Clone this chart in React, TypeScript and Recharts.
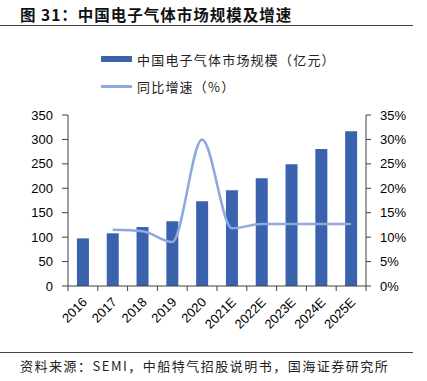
import { ComposedChart, Bar, Line, XAxis, YAxis } from "recharts";

const years = ["2016", "2017", "2018", "2019", "2020", "2021E", "2022E", "2023E", "2024E", "2025E"];
const marketSize = [97.5, 107.8, 120.7, 132.3, 173.3, 195.8, 220.3, 249, 280.4, 316.5];
const growth = [null, 11.5, 11.2, 9.0, 30.0, 11.8, 12.7, 12.7, 12.7, 12.7];
const leftTicks = [0, 50, 100, 150, 200, 250, 300, 350];
const rightTicks = [0, 5, 10, 15, 20, 25, 30, 35];

const data = years.map((year, i) => ({ year, size: marketSize[i], growth: growth[i] }));

const BAR = "#3A62AD";
const LINE = "#8EA9DB";
const AXIS = "#404040";
const CJK = '"Noto Sans CJK SC", sans-serif';
const NUM = '"Liberation Sans", Arial, sans-serif';

const W = 427;
const H = 340;
const LEFT_W = 68;
const RIGHT_W = 61;
const BAND = (W - LEFT_W - RIGHT_W) / years.length;

function YearTick({ x, y, payload, index }: any) {
  const half = BAND / 2;
  return (
    <g>
      <line x1={x - half} y1={y - 8} x2={x - half} y2={y - 3} stroke={AXIS} />
      {index === years.length - 1 && (
        <line x1={x + half} y1={y - 8} x2={x + half} y2={y - 3} stroke={AXIS} />
      )}
      <text
        x={x + 5}
        y={y + 9}
        textAnchor="end"
        transform={`rotate(-45, ${x + 5}, ${y + 9})`}
        fontSize={13}
        fontFamily={NUM}
        fill="#000"
      >
        {payload.value}
      </text>
    </g>
  );
}

export default function App() {
  return (
    <div style={{ position: "absolute", left: 0, top: 0, width: W, height: 381, background: "#fff", fontFamily: CJK }}>
      <div style={{ position: "absolute", left: 20, top: 3, fontSize: 15.5, fontWeight: 700, letterSpacing: 1, color: "#111", whiteSpace: "nowrap" }}>
        图 31：中国电子气体市场规模及增速
      </div>
      <div style={{ position: "absolute", left: 0, top: 25, width: 413, height: 1, background: "#444" }} />

      <div style={{ position: "absolute", left: 101, top: 56, width: 31, height: 6, background: BAR }} />
      <div style={{ position: "absolute", left: 137, top: 50, fontSize: 13, letterSpacing: 1.2, color: "#222", whiteSpace: "nowrap" }}>
        中国电子气体市场规模（亿元）
      </div>
      <div style={{ position: "absolute", left: 101, top: 85, width: 31, height: 2.5, background: LINE }} />
      <div style={{ position: "absolute", left: 137, top: 77, fontSize: 13, letterSpacing: 1.2, color: "#222", whiteSpace: "nowrap" }}>
        同比增速（%）
      </div>

      <div style={{ position: "absolute", left: 0, top: 0 }}>
        <ComposedChart
          width={W}
          height={H}
          data={data}
          margin={{ top: 115, right: 0, bottom: 0, left: 0 }}
          barCategoryGap="30%"
        >
          <XAxis
            dataKey="year"
            height={54}
            tick={<YearTick />}
            tickLine={false}
            axisLine={{ stroke: AXIS }}
            interval={0}
          />
          <YAxis
            yAxisId="left"
            width={LEFT_W}
            domain={[0, 350]}
            ticks={leftTicks}
            tickSize={6}
            tickMargin={9}
            tick={{ fontSize: 13, fontFamily: NUM, fill: "#000" }}
            axisLine={{ stroke: AXIS }}
            tickLine={{ stroke: AXIS }}
          />
          <YAxis
            yAxisId="right"
            orientation="right"
            width={RIGHT_W}
            domain={[0, 35]}
            ticks={rightTicks}
            tickSize={5}
            tickMargin={9}
            tickFormatter={(v: number) => `${v}%`}
            tick={{ fontSize: 13, fontFamily: NUM, fill: "#000", textAnchor: "start" }}
            axisLine={{ stroke: AXIS }}
            tickLine={{ stroke: AXIS }}
          />
          <Bar yAxisId="left" dataKey="size" fill={BAR} isAnimationActive={false} />
          <Line
            yAxisId="right"
            dataKey="growth"
            type="monotone"
            stroke={LINE}
            strokeWidth={2.5}
            dot={false}
            connectNulls
            isAnimationActive={false}
          />
        </ComposedChart>
      </div>

      <div style={{ position: "absolute", left: 0, top: 352, width: 413, height: 1, background: "#444" }} />
      <div style={{ position: "absolute", left: 20, top: 356, fontSize: 13, letterSpacing: 1.5, color: "#222", whiteSpace: "nowrap" }}>
        资料来源：SEMI，中船特气招股说明书，国海证券研究所
      </div>
    </div>
  );
}
